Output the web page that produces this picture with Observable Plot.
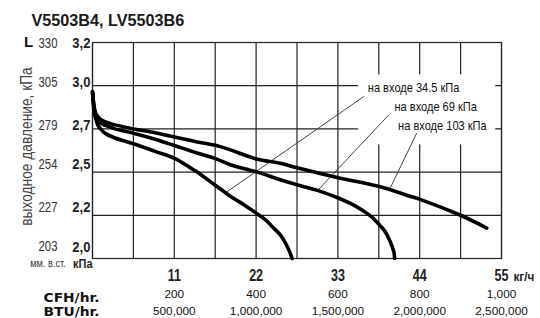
<!DOCTYPE html>
<html>
<head>
<meta charset="utf-8">
<script src="https://cdn.jsdelivr.net/npm/d3@7"></script>
<script src="https://cdn.jsdelivr.net/npm/@observablehq/plot@0.6"></script>
<style>
  html, body { margin: 0; padding: 0; background: #fff; }
  #wrap { position: relative; width: 540px; height: 318px; overflow: hidden; }
  #wrap svg { display: block; overflow: visible; }
</style>
</head>
<body>
<div id="wrap"></div>
<script>
// ---- data ----
const chartTitle = "V5503B4, LV5503B6";
const flowTicks = [11, 22, 33, 44, 55];
const cfhLabels = ["200", "400", "600", "800", "1,000"];
const btuLabels = ["500,000", "1,000,000", "1,500,000", "2,000,000", "2,500,000"];
const kpaTicks = [3.2, 3.0, 2.7, 2.5, 2.2, 2.0];
const kpaTickLabels = ["3,2", "3,0", "2,7", "2,5", "2,2", "2,0"];
const mmTickLabels = ["330", "305", "279", "254", "227", "203"];

// inlet 34.5 kPa
const flow345 = [0, 0.13, 0.40, 0.74, 1.28, 1.82, 3.03, 5.50, 8.42, 11.02, 13.81, 16.51, 18.53, 20.55, 22.03, 23.24, 24.18, 25.26, 25.93, 26.47, 26.84];
const press345 = [2.958, 2.867, 2.784, 2.724, 2.693, 2.677, 2.658, 2.631, 2.596, 2.564, 2.506, 2.409, 2.333, 2.267, 2.215, 2.180, 2.147, 2.109, 2.072, 2.034, 2.000];
// inlet 69 kPa
const flow69 = [0, 0.13, 0.47, 1.01, 1.82, 3.03, 5.50, 8.42, 11.02, 13.81, 16.64, 18.53, 22.03, 25.26, 27.51, 30.25, 33.04, 35.37, 36.49, 37.66, 38.56, 39.28, 39.81, 40.31, 40.56, 40.62];
const press69 = [2.958, 2.881, 2.770, 2.742, 2.723, 2.700, 2.680, 2.652, 2.623, 2.591, 2.561, 2.534, 2.501, 2.447, 2.412, 2.373, 2.320, 2.264, 2.228, 2.189, 2.156, 2.128, 2.095, 2.054, 2.025, 2.000];
// inlet 103 kPa
const flow103 = [0, 0.13, 0.47, 1.01, 1.82, 3.03, 5.50, 8.42, 11.02, 13.81, 16.64, 18.53, 22.03, 25.26, 27.51, 33.04, 38.56, 42.78, 44.13, 49.56, 53.02];
const press103 = [2.958, 2.888, 2.805, 2.770, 2.747, 2.728, 2.700, 2.682, 2.662, 2.642, 2.623, 2.603, 2.561, 2.541, 2.520, 2.461, 2.400, 2.331, 2.309, 2.199, 2.141];

// annotations
const seriesLabels = ["на входе 34.5 кПа", "на входе 69 кПа", "на входе 103 кПа"];
const labelFlow = [43.18, 46.15, 47.05];
const labelPress = [2.986, 2.856, 2.722];
const leaderFlowStart = [36.49, 39.86, 43.59];
const leaderPressStart = [2.925, 2.798, 2.680];
const leaderFlowEnd = [17.85, 30.29, 39.95];
const leaderPressEnd = [2.355, 2.373, 2.380];
const labelBox = [{x1: 35.77, x2: 54.23, y1: 2.626, y2: 3.05}];

// ---- build ----
const zip = (xs, ys) => xs.map((x, i) => ({x, y: ys[i]}));
const curves = [zip(flow345, press345), zip(flow69, press69), zip(flow103, press103)];
const gridX = d3.range(0, 55.001, 5.5);
const sans = "'Liberation Sans', Arial, sans-serif";
const rowShift = [1, -3.5, -3.5, -8, -8, -11.5];
const leaders = leaderFlowStart.map((x, i) => ({x1: x, y1: leaderPressStart[i], x2: leaderFlowEnd[i], y2: leaderPressEnd[i]}));
const labels = seriesLabels.map((t, i) => ({t, x: labelFlow[i], y: labelPress[i]}));
// piecewise gauge: the printed kPa ticks are evenly spaced on the sheet
const gauge = d3.scaleLinear().domain([2.0, 2.2, 2.5, 2.7, 3.0, 3.2]).range([0, 1, 2, 3, 4, 5]);
const sq = f => "squeeze:" + f;  // horizontal condensing/widening of a text mark

const marks = [
  Plot.ruleX(gridX, {stroke: "#222", strokeWidth: 1.2}),
  Plot.ruleY(kpaTicks, {stroke: "#222", strokeWidth: 1.2}),
  Plot.frame({stroke: "#222", strokeWidth: 1.2}),
  Plot.rect(labelBox, {x1: "x1", x2: "x2", y1: "y1", y2: "y2", fill: "white"}),
  Plot.link(leaders, {x1: "x1", y1: "y1", x2: "x2", y2: "y2", stroke: "#444", strokeWidth: 1}),
  ...curves.map(c => Plot.line(c, {x: "x", y: "y", stroke: "#000", strokeWidth: 3.6, curve: "catmull-rom", strokeLinecap: "round"})),
  Plot.text(labels, {x: "x", y: "y", text: "t", fontFamily: sans, fontSize: 13, fill: "#111", ariaDescription: sq(0.85)}),
  // title
  Plot.text([chartTitle], {frameAnchor: "top-left", dx: -61, dy: -22, textAnchor: "start", lineAnchor: "middle", fontFamily: sans, fontWeight: "bold", fontSize: 16.2, fill: "#1a1a1a"}),
  // y tick labels
  ...kpaTicks.map((v, i) => Plot.text([v], {y: d => d, text: () => kpaTickLabels[i], frameAnchor: "left", dx: -2, dy: rowShift[i], textAnchor: "end", lineAnchor: "middle", fontFamily: sans, fontWeight: "bold", fontSize: 14.5, fill: "#222", ariaDescription: sq(0.9)})),
  ...kpaTicks.map((v, i) => Plot.text([v], {y: d => d, text: () => mmTickLabels[i], frameAnchor: "left", dx: -44.5, dy: rowShift[i], textAnchor: "middle", lineAnchor: "middle", fontFamily: sans, fontSize: 14, fill: "#333", ariaDescription: sq(0.81)})),
  Plot.text(["мм. в.ст."], {frameAnchor: "bottom-left", dx: -44.5, dy: 5.5, textAnchor: "middle", lineAnchor: "middle", fontFamily: sans, fontSize: 10.5, fill: "#333", ariaDescription: sq(0.88)}),
  Plot.text(["кПа"], {frameAnchor: "bottom-left", dx: 0, dy: 5.5, textAnchor: "end", lineAnchor: "middle", fontFamily: sans, fontWeight: "bold", fontSize: 13, fill: "#222", ariaDescription: sq(0.84)}),
  Plot.text(["L"], {frameAnchor: "top-left", dx: -64, dy: 0, textAnchor: "middle", lineAnchor: "middle", fontFamily: sans, fontWeight: "bold", fontSize: 15, fill: "#111"}),
  Plot.text(["выходное давление, кПа"], {frameAnchor: "left", dx: -66, dy: -4, rotate: -90, textAnchor: "middle", lineAnchor: "middle", fontFamily: sans, fontSize: 16, fill: "#444", ariaDescription: sq(0.86)}),
  // x tick labels
  Plot.text(flowTicks, {x: d => d, text: d => String(d), frameAnchor: "bottom", dy: 17, lineAnchor: "middle", fontFamily: sans, fontWeight: "bold", fontSize: 16, fill: "#222", ariaDescription: sq(0.78)}),
  Plot.text(["кг/ч"], {x: () => 55, frameAnchor: "bottom", dx: 12, dy: 18, textAnchor: "start", lineAnchor: "middle", fontFamily: sans, fontWeight: "bold", fontSize: 13, fill: "#222", ariaDescription: sq(0.9)}),
  Plot.text(cfhLabels, {x: (d, i) => flowTicks[i], text: d => d, frameAnchor: "bottom", dy: 35.5, lineAnchor: "middle", fontFamily: sans, fontSize: 11.8, fill: "#111"}),
  Plot.text(btuLabels, {x: (d, i) => flowTicks[i], text: d => d, frameAnchor: "bottom", dy: 53, lineAnchor: "middle", fontFamily: sans, fontSize: 11.8, fill: "#111"}),
  Plot.text(["CFH/hr."], {frameAnchor: "bottom-left", dx: -49, dy: 39.5, textAnchor: "start", lineAnchor: "middle", fontFamily: "'DejaVu Sans', sans-serif", fontWeight: "bold", fontSize: 11.5, fill: "#111", ariaDescription: sq(1.2)}),
  Plot.text(["BTU/hr."], {frameAnchor: "bottom-left", dx: -49, dy: 53.5, textAnchor: "start", lineAnchor: "middle", fontFamily: "'DejaVu Sans', sans-serif", fontWeight: "bold", fontSize: 11.5, fill: "#111", ariaDescription: sq(1.2)})
];

const chart = Plot.plot({
  width: 540,
  height: 318,
  marginLeft: 92,
  marginRight: 39,
  marginTop: 42,
  marginBottom: 60,
  x: {domain: [0, 55], axis: null},
  y: {transform: gauge, domain: [0, 5], axis: null},
  style: {background: "transparent", overflow: "visible"},
  marks
});
document.getElementById("wrap").appendChild(chart);

// condense (or widen) texts to the printed sheet's type widths
chart.querySelectorAll("g[aria-description^='squeeze']").forEach(g => {
  const f = +g.getAttribute("aria-description").split(":")[1];
  g.querySelectorAll("text").forEach(t => {
    const len = t.getComputedTextLength();
    if (len > 0) {
      t.setAttribute("textLength", (len * f).toFixed(2));
      t.setAttribute("lengthAdjust", "spacingAndGlyphs");
    }
  });
});
</script>
</body>
</html>
